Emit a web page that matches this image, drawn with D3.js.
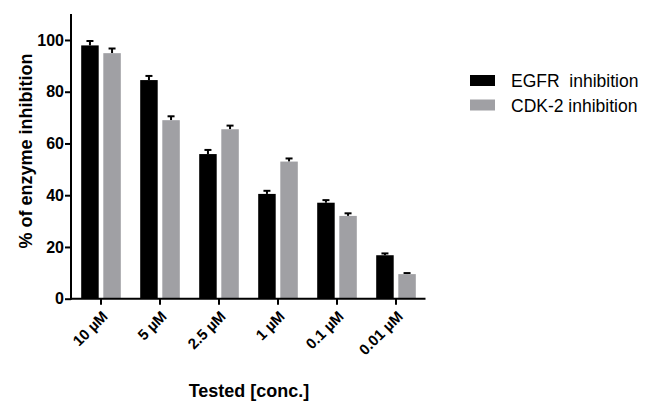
<!DOCTYPE html>
<html><head><meta charset="utf-8">
<script src="https://cdn.jsdelivr.net/npm/d3@7"></script>
<style>
body{margin:0;background:#fff;}
text{font-family:"Liberation Sans",Arial,sans-serif;}
</style></head>
<body><svg id="c" width="651" height="403"></svg>
<script>
const categories = ["10 µM","5 µM","2.5 µM","1 µM","0.1 µM","0.01 µM"];
const seriesNames = ["EGFR  inhibition","CDK-2 inhibition"];
const egfr = [97.9, 84.5, 55.9, 40.5, 37.1, 16.8];
const egfrErr = [1.7, 1.6, 1.6, 1.2, 1.0, 0.7];
const cdk2 = [94.9, 69.0, 65.5, 53.0, 32.0, 9.5];
const cdk2Err = [1.8, 1.5, 1.4, 1.2, 1.0, 0.4];
const yTicks = [0,20,40,60,80,100];
const colors = ["#000000","#a0a0a4"];

const svg = d3.select("#c");
const x = d3.scaleBand().domain(categories).range([71.5,425.5]).padding(0);
const y = d3.scaleLinear().domain([0,110]).range([298.7,14.1]);
const bw = 17.5, gap = 2.3;
const series = [{v:egfr,e:egfrErr},{v:cdk2,e:cdk2Err}];

series.forEach((s,si)=>{
  const g = svg.append("g");
  const xs = d => si===0 ? x(categories[d])+x.bandwidth()/2 - gap - bw : x(categories[d])+x.bandwidth()/2 + gap;
  g.selectAll("line.err").data(d3.range(categories.length)).join("line")
    .attr("x1",d=>xs(d)+bw/2).attr("x2",d=>xs(d)+bw/2)
    .attr("y1",d=>y(s.v[d])).attr("y2",d=>y(s.v[d]+s.e[d]))
    .attr("stroke","#000").attr("stroke-width",2);
  g.selectAll("line.cap").data(d3.range(categories.length)).join("line")
    .attr("x1",d=>xs(d)+bw/2-3.5).attr("x2",d=>xs(d)+bw/2+3.5)
    .attr("y1",d=>y(s.v[d]+s.e[d])).attr("y2",d=>y(s.v[d]+s.e[d]))
    .attr("stroke","#000").attr("stroke-width",2);
  g.selectAll("rect").data(d3.range(categories.length)).join("rect")
    .attr("x",d=>xs(d)).attr("width",bw)
    .attr("y",d=>y(s.v[d])).attr("height",d=>y(0)-y(s.v[d]))
    .attr("fill",colors[si]);
});

// y axis
const ya = svg.append("g").attr("transform","translate(71,0)")
  .call(d3.axisLeft(y).tickValues(yTicks).tickSize(6).tickSizeOuter(0));
ya.select(".domain").attr("stroke","#000").attr("stroke-width",2).attr("d","M0,"+y(110)+"V"+(y(0)+1));
ya.selectAll(".tick line").attr("stroke-width",2);
ya.selectAll(".tick text").attr("font-size",16).attr("font-weight","bold").attr("fill","#000").attr("x",-7);

// x axis
const xa = svg.append("g").attr("transform","translate(0,"+y(0)+")")
  .call(d3.axisBottom(x).tickSize(6).tickSizeOuter(0));
xa.select(".domain").attr("stroke","#000").attr("stroke-width",2).attr("d","M70,0H425.5");
xa.selectAll(".tick line").attr("stroke-width",2);
xa.selectAll(".tick text").attr("font-size",15).attr("font-weight","bold").attr("fill","#000")
  .attr("text-anchor","end").attr("dy","0.35em")
  .attr("transform","translate(4,15) rotate(-45)").attr("y",0).attr("x",0);

// axis titles
svg.append("text").attr("transform","translate(32,151) rotate(-90)")
  .attr("text-anchor","middle").attr("font-size",18).attr("font-weight","bold").text("% of enzyme inhibition");
svg.append("text").attr("x",249).attr("y",397)
  .attr("text-anchor","middle").attr("font-size",18).attr("font-weight","bold").text("Tested [conc.]");

// legend
const lg = svg.append("g");
seriesNames.forEach((n,i)=>{
  lg.append("rect").attr("x",470).attr("y",75+i*24.5).attr("width",25).attr("height",11).attr("fill",colors[i]);
  lg.append("text").attr("x",511).attr("y",87+i*24.5).attr("font-size",17.5)
    .style("white-space","pre").attr("fill","#000").text(n);
});
</script></body></html>
